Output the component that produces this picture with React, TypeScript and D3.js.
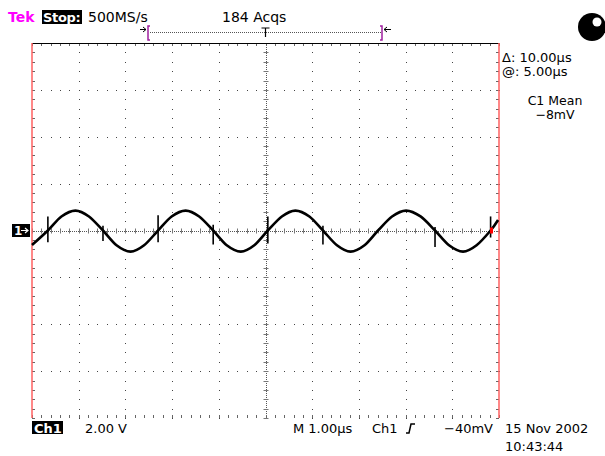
import React from "react";
import * as d3 from "d3";

// Waveform samples: time (µs) and voltage (V)
const traceTimes = [0, 0.34, 0.63, 0.93, 1.22, 1.52, 1.81, 2.11, 2.40, 2.70, 2.99, 3.29, 3.58, 3.88, 4.17, 4.47, 4.76, 5.05, 5.35, 5.64, 5.94, 6.23, 6.53, 6.82, 7.12, 7.41, 7.71, 8.01, 8.32, 8.63, 8.93, 9.23, 9.52, 9.82, 9.98];
const traceVolts = [-0.62, 0, 0.6, 0.85, 0.6, 0, -0.63, -0.9, -0.63, 0, 0.6, 0.85, 0.6, 0, -0.63, -0.9, -0.63, 0, 0.6, 0.85, 0.6, 0, -0.63, -0.9, -0.63, 0, 0.6, 0.85, 0.6, 0, -0.63, -0.9, -0.63, 0, 0.45];

// Glitches at zero crossings: time, top (V), bottom (V)
const spikeTimes = [0.34, 1.52, 2.70, 3.88, 5.05, 6.23, 8.63, 9.82];
const spikeTops = [0.6, 0.2, 0.65, 0.25, 0.6, 0.2, 0.15, 0.6];
const spikeBottoms = [-0.5, -0.45, -0.5, -0.6, -0.55, -0.6, -0.7, -0.3];

const xDivs = 10;
const yDivs = 8;
const timePerDiv = 1; // µs
const voltsPerDiv = 2; // V

const topTexts = ["500MS/s", "184 Acqs"];
const sideTexts = ["Δ: 10.00µs", "@: 5.00µs", "C1 Mean", "−8mV"];
const bottomTexts = ["2.00 V", "M 1.00µs", "Ch1", "−40mV", "15 Nov 2002", "10:43:44"];

const FONT = "'DejaVu Sans', sans-serif";

export default function App() {
  const W = 605, H = 456;
  const L = 32, R = 499, T = 43, B = 418;
  const x = d3.scaleLinear().domain([0, xDivs * timePerDiv]).range([L, R]);
  const y = d3.scaleLinear().domain([-(yDivs / 2) * voltsPerDiv, (yDivs / 2) * voltsPerDiv]).range([B, T]);
  const cx = x(5), cy = y(0);
  const minorX = d3.range(0, xDivs * timePerDiv + 1e-9, timePerDiv / 5);
  const minorY = d3.range(-8, 8 + 1e-9, voltsPerDiv / 5);

  const pts: [number, number][] = traceTimes.map((t, i) => [x(t), y(traceVolts[i])]);
  const line = d3.line().curve(d3.curveCardinal.tension(0.1))(pts) || "";

  const dots: JSX.Element[] = [];
  for (let i = 1; i < xDivs; i++) {
    if (i === 5) continue;
    const gx = Math.round(x(i * timePerDiv));
    minorY.forEach((v, k) => dots.push(<rect key={`v${i}-${k}`} x={gx} y={Math.round(y(v))} width={1} height={1} fill="#444" />));
  }
  for (let j = 1; j < yDivs; j++) {
    if (j === 4) continue;
    const gy = Math.round(y(-8 + j * voltsPerDiv));
    minorX.forEach((t, k) => dots.push(<rect key={`h${j}-${k}`} x={Math.round(x(t))} y={gy} width={1} height={1} fill="#444" />));
  }
  const centerDots: JSX.Element[] = [];
  for (let px = L; px <= R; px += 2) centerDots.push(<rect key={`cx${px}`} x={px} y={Math.round(cy)} width={1} height={1} fill="#555" />);
  for (let py = T; py <= B; py += 2) centerDots.push(<rect key={`cy${py}`} x={Math.round(cx)} y={py} width={1} height={1} fill="#555" />);

  const ticks: JSX.Element[] = [];
  minorX.forEach((t, k) => {
    const px = Math.round(x(t)) + 0.5;
    ticks.push(<line key={`tt${k}`} x1={px} x2={px} y1={T} y2={T + 3} stroke="#666" />);
    ticks.push(<line key={`tb${k}`} x1={px} x2={px} y1={B - 3} y2={B} stroke="#666" />);
    ticks.push(<line key={`tc${k}`} x1={px} x2={px} y1={cy - 2} y2={cy + 3} stroke="#777" />);
  });
  minorY.forEach((v, k) => {
    const py = Math.round(y(v)) + 0.5;
    ticks.push(<line key={`tl${k}`} x1={L} x2={L + 3} y1={py} y2={py} stroke="#666" />);
    ticks.push(<line key={`tr${k}`} x1={R - 3} x2={R} y1={py} y2={py} stroke="#666" />);
    ticks.push(<line key={`tm${k}`} x1={cx - 2} x2={cx + 3} y1={py} y2={py} stroke="#777" />);
  });

  return (
    <svg width={W} height={H} style={{ position: "absolute", left: 0, top: 0, background: "#fff" }} fontFamily={FONT}>
      <rect x={0} y={0} width={W} height={H} fill="#fff" />
      {/* header */}
      <text x={8} y={22} fontSize={14} fill="#ff00ff" fontWeight="bold">Tek</text>
      <rect x={42} y={10} width={40} height={14} fill="#000" />
      <text x={43} y={22} fontSize={13} fill="#fff" fontWeight="bold" letterSpacing={-0.3}>Stop:</text>
      <text x={88} y={22} fontSize={14} fill="#000">{topTexts[0]}</text>
      <text x={222} y={22} fontSize={14} fill="#000">{topTexts[1]}</text>
      {/* trigger position bar */}
      {d3.range(150, 382, 2).map((px) => <rect key={`tb${px}`} x={px} y={32} width={1} height={1} fill="#555" />)}
      <path d="M140,29.5 H146 M143,27 L146,29.5 L143,32" stroke="#000" fill="none" strokeWidth={1} />
      <path d="M150,26 H148 V40 H150" stroke="#a020a0" fill="none" strokeWidth={1.5} />
      <path d="M380,26 H382 V40 H380" stroke="#a020a0" fill="none" strokeWidth={1.5} />
      <path d="M384,29.5 H391 M387,27 L384,29.5 L387,32" stroke="#000" fill="none" strokeWidth={1} />
      <path d={`M${cx - 4},28 H${cx + 4} M${cx},28 V37`} stroke="#000" fill="none" strokeWidth={1.2} />
      {/* circle icon */}
      <circle cx={592} cy={27} r={14} fill="#000" />
      <circle cx={597} cy={22} r={4.5} fill="#fff" />
      {/* graticule */}
      {dots}
      {centerDots}
      {ticks}
      <line x1={L} x2={R} y1={T + 0.5} y2={T + 0.5} stroke="#000" strokeWidth={1} />
      <line x1={L} x2={L} y1={T} y2={B} stroke="#ff6060" strokeWidth={1.5} />
      <line x1={R} x2={R} y1={T} y2={B} stroke="#ff6060" strokeWidth={1.5} />
      {/* trace */}
      <path d={line} fill="none" stroke="#000" strokeWidth={2.6} strokeLinejoin="round" />
      {spikeTimes.map((t, i) => (
        <line key={`sp${i}`} x1={x(t)} x2={x(t)} y1={y(spikeTops[i])} y2={y(spikeBottoms[i])} stroke="#000" strokeWidth={1.6} />
      ))}
      <rect x={490} y={cy - 3} width={3} height={6} fill="#ff0000" />
      {/* channel marker */}
      <rect x={12} y={224} width={18} height={13} fill="#000" />
      <text x={14} y={235} fontSize={12} fill="#fff" fontWeight="bold">1</text>
      <path d="M21,230.5 H28 M25,228 L28,230.5 L25,233" stroke="#fff" fill="none" strokeWidth={1.2} />
      {/* side readouts */}
      <text x={502} y={62} fontSize={13} fill="#000">{sideTexts[0]}</text>
      <text x={502} y={76} fontSize={13} fill="#000">{sideTexts[1]}</text>
      <text x={555} y={105} fontSize={12.5} fill="#000" textAnchor="middle">{sideTexts[2]}</text>
      <text x={555} y={119} fontSize={12.5} fill="#000" textAnchor="middle">{sideTexts[3]}</text>
      {/* bottom readouts */}
      <rect x={32} y={421} width={31} height={13} fill="#000" />
      <text x={34} y={433} fontSize={13} fill="#fff" fontWeight="bold">Ch1</text>
      <text x={85} y={433} fontSize={13} fill="#000">{bottomTexts[0]}</text>
      <text x={293} y={433} fontSize={13} fill="#000">{bottomTexts[1]}</text>
      <text x={372} y={433} fontSize={13} fill="#000">{bottomTexts[2]}</text>
      <path d="M406,433 H409 L411,424 H415" stroke="#000" fill="none" strokeWidth={1.5} />
      <text x={493} y={433} fontSize={13} fill="#000" textAnchor="end">{bottomTexts[3]}</text>
      <text x={505} y={433} fontSize={13} fill="#000">{bottomTexts[4]}</text>
      <text x={505} y={451} fontSize={13} fill="#000">{bottomTexts[5]}</text>
    </svg>
  );
}
